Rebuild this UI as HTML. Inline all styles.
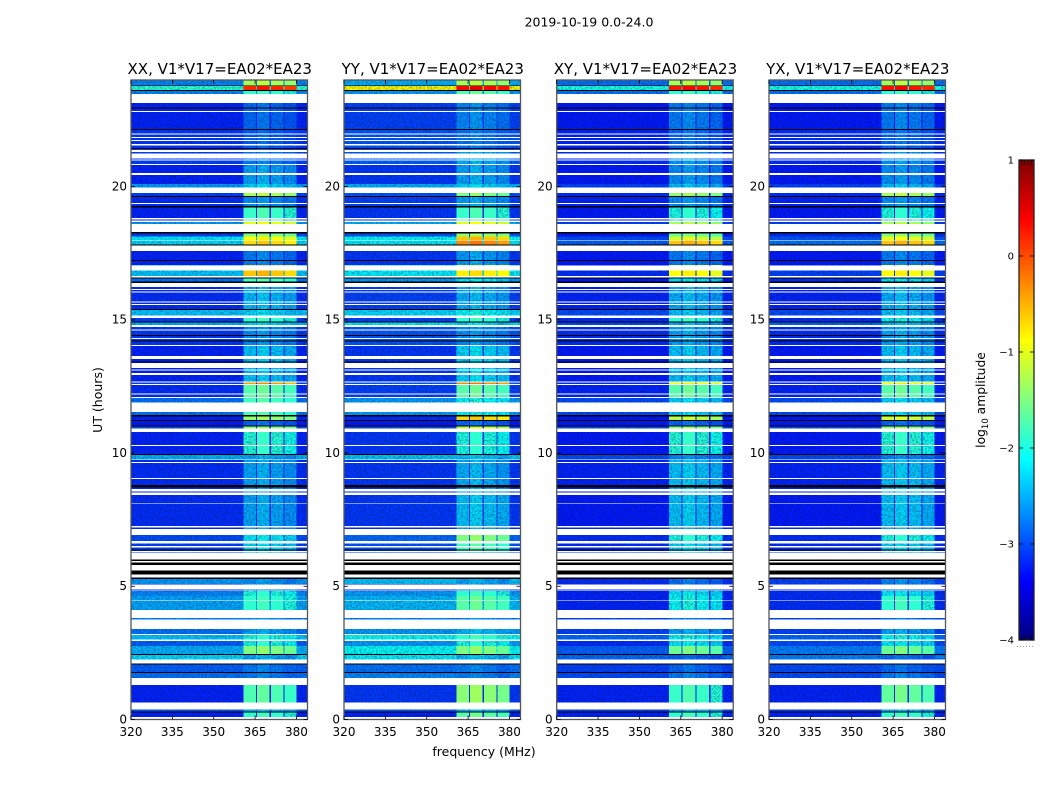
<!DOCTYPE html>
<html>
<head>
<meta charset="utf-8">
<title>2019-10-19 0.0-24.0</title>
<style>
html,body{margin:0;padding:0;background:#fff;}
svg{display:block;font-family:"DejaVu Sans","Liberation Sans",sans-serif;fill:#000;}
</style>
</head>
<body>
<svg id="chart" width="1050" height="800" viewBox="0 0 1050 800" xmlns="http://www.w3.org/2000/svg">
  <defs>
    <linearGradient id="cbar-gradient" x1="0" y1="1" x2="0" y2="0"></linearGradient>
    <!-- Decorative film grain suggesting the noise floor; it is a texture, not data. -->
    <filter id="grain" x="0" y="0" width="100%" height="100%" color-interpolation-filters="sRGB">
      <feTurbulence type="fractalNoise" baseFrequency="0.55" numOctaves="1" seed="4"/>
      <feColorMatrix type="matrix" values="0 0 0 0 0  0 0 0 0 0.05  0 0 0 0 0.2  1.0 0 0 0 -0.38"/>
    </filter>
  </defs>
  <text x="589" y="26.5" font-size="12.5" text-anchor="middle">2019-10-19 0.0-24.0</text>
  <g id="panels"></g>
  <text x="0" y="0" font-size="12.5" text-anchor="middle" transform="translate(102,400) rotate(-90)">UT (hours)</text>
  <text x="484" y="756" font-size="12.5" text-anchor="middle">frequency (MHz)</text>
  <g id="colorbar"></g>
  <text font-size="12.3" text-anchor="middle" transform="translate(985,400) rotate(-90)">log<tspan font-size="8.5" dy="3">10</tspan><tspan dy="-3"> amplitude</tspan></text>
</svg>
<script>
// Panel titles
var panelNames = ["XX", "YY", "XY", "YX"];
var baselineLabel = "V1*V17=EA02*EA23";

// Axis ticks
var freqTicks = [320, 335, 350, 365, 380];
var timeTicks = [0, 5, 10, 15, 20];
var cbarTicks = [1, 0, -1, -2, -3, -4];

// Spectral windows with the strong interference (MHz)
var spwStart = [360.8, 365.6, 370.7, 375.7];
var spwEnd = [365.3, 370.3, 375.3, 380.1];
var spwOffsetXX = [0.0, 0.1, 0.0, -0.1];
var spwOffsetYY = [0.0, 0.1, 0.0, -0.1];
var spwOffsetXY = [0.0, 0.1, 0.0, -0.1];
var spwOffsetYX = [0.0, 0.1, 0.0, -0.1];

// Time segments: top edge of each, in UT hours
var segTop = [24,23.79,23.60,23.13,22.12,21.37,20.81,20.09,19.76,19.62,
  19.23,18.71,18.27,18.12,17.97,17.80,17.05,16.64,16.38,15.40,
  15.14,14.92,14.73,14.05,12.68,12.55,12.06,11.39,11.20,11.01,
  10.79,9.92,9.74,8.42,7.26,6.92,6.70,6.29,5.28,5.08,
  4.82,4.63,4.11,3.40,3.21,2.98,2.76,2.42,2.25,1.78,
  1.29,0.62,0.28];

// Background level in each segment, log10 amplitude
var baseXX = [-2.7,-1.9,-2.7,-3.2,-3.1,-3.05,-3.2,-2.6,-3.05,-3.15,
  -3.2,-2.6,-3.05,-2.2,-2.3,-3.2,-2.4,-2.8,-3.15,-2.4,
  -3.05,-2.5,-3.1,-3.2,-3.05,-3.15,-2.8,-3.2,-3.25,-3.0,
  -3.2,-2.5,-3.15,-3.15,-3.15,-3.0,-3.05,-3.05,-2.6,-3.15,
  -2.7,-2.55,-2.7,-2.8,-2.4,-2.9,-2.5,-2.3,-2.9,-2.8,
  -3.2,-2.95,-3.2];
var baseYY = [-2.5,-0.85,-2.6,-3.05,-2.95,-2.9,-3.1,-2.5,-2.95,-3.05,
  -3.1,-2.5,-2.95,-2.1,-2.2,-3.1,-2.2,-2.6,-3.05,-2.3,
  -3.05,-2.2,-2.95,-3.1,-2.95,-3.05,-2.6,-3.15,-3.25,-3.0,
  -3.1,-2.4,-3.1,-3.1,-3.15,-2.85,-2.95,-3.05,-2.4,-3.15,
  -2.6,-2.45,-2.7,-2.6,-2.1,-2.6,-2.1,-2.2,-2.8,-2.7,
  -3.1,-2.95,-3.2];
var baseXY = [-2.8,-2.0,-2.8,-3.25,-3.2,-3.15,-3.25,-3.05,-3.15,-3.2,
  -3.25,-3.05,-3.25,-3.0,-2.9,-3.25,-3.15,-3.25,-3.2,-3.0,
  -3.15,-3.0,-3.15,-3.25,-3.15,-3.2,-3.0,-3.25,-3.25,-3.0,
  -3.25,-3.0,-3.2,-3.25,-3.15,-3.15,-3.15,-3.05,-3.15,-3.15,
  -3.2,-3.2,-3.0,-3.05,-2.85,-3.15,-2.9,-2.85,-3.05,-3.0,
  -3.2,-3.05,-3.2];
var baseYX = [-2.8,-2.0,-2.8,-3.25,-3.15,-3.15,-3.25,-3.05,-3.15,-3.2,
  -3.25,-3.05,-3.15,-2.95,-2.8,-3.25,-3.05,-3.15,-3.2,-3.0,
  -3.15,-2.85,-3.15,-3.25,-3.15,-3.2,-3.0,-3.25,-3.25,-3.0,
  -3.25,-3.0,-3.2,-3.25,-3.15,-3.15,-3.15,-3.05,-3.05,-3.15,
  -3.15,-3.15,-3.0,-3.05,-2.85,-3.0,-2.75,-2.75,-3.0,-3.0,
  -3.2,-3.05,-3.2];

// Level inside the spectral windows in each segment, log10 amplitude
var rfiXX = [-1.3,0.2,-1.9,-2.85,-2.9,-2.75,-2.55,-2.3,-1.3,-2.65,
  -1.85,-1.0,-1.5,-0.9,-0.7,-2.75,-0.6,-1.8,-2.45,-2.3,
  -1.9,-2.3,-2.65,-2.4,-0.4,-1.7,-1.8,-1.4,-2.85,-1.5,
  -1.95,-2.55,-2.55,-2.55,-2.55,-2.2,-2.3,-2.55,-2.65,-2.75,
  -2.0,-1.9,-2.65,-2.55,-2.0,-2.0,-1.5,-2.55,-2.75,-2.75,
  -1.75,-2.45,-1.9];
var rfiYY = [-1.3,0.4,-1.7,-2.7,-2.8,-2.5,-2.55,-2.3,-1.5,-2.55,
  -1.85,-1.0,-1.4,-0.6,-0.3,-2.6,-0.8,-2.2,-2.5,-2.1,
  -1.9,-2.3,-2.65,-2.3,-0.3,-1.7,-2.1,-0.7,-2.85,-1.2,
  -2.0,-2.45,-2.5,-2.4,-2.5,-1.5,-1.8,-2.55,-2.55,-2.75,
  -1.9,-1.7,-2.65,-2.45,-1.9,-2.0,-1.5,-2.45,-2.75,-2.75,
  -1.45,-2.45,-1.7];
var rfiXY = [-1.3,0.3,-1.9,-2.75,-2.85,-2.6,-2.65,-2.4,-1.4,-2.65,
  -2.0,-1.3,-1.6,-1.1,-0.6,-2.75,-0.9,-2.2,-2.5,-2.4,
  -1.9,-2.5,-2.55,-2.4,-0.9,-1.7,-2.3,-1.2,-2.85,-1.5,
  -1.95,-2.7,-2.4,-2.4,-2.5,-2.0,-2.3,-2.55,-2.8,-2.85,
  -2.2,-2.1,-2.75,-2.55,-2.1,-2.2,-1.6,-2.9,-2.85,-2.75,
  -1.85,-2.45,-1.9];
var rfiYX = [-1.3,0.3,-1.9,-2.75,-2.85,-2.6,-2.65,-2.4,-1.3,-2.65,
  -2.0,-1.3,-1.5,-1.0,-0.6,-2.75,-0.9,-2.2,-2.5,-2.4,
  -2.1,-2.4,-2.55,-2.4,-0.9,-1.7,-2.3,-1.1,-2.85,-1.5,
  -1.95,-2.7,-2.4,-2.4,-2.5,-2.0,-2.3,-2.55,-2.7,-2.85,
  -2.2,-1.9,-2.75,-2.55,-2.1,-2.2,-1.6,-2.85,-2.85,-2.75,
  -1.65,-2.45,-1.9];

// Fully flagged (blank) time ranges, UT hours
var flagTop = [23.48,22.83,22.00,21.87,21.74,21.59,21.38,21.25,21.02,20.84,
  20.51,19.97,19.38,18.82,18.72,18.59,17.99,17.78,17.04,16.64,
  16.39,16.16,16.07,15.69,15.59,15.17,14.80,14.63,14.32,14.05,
  13.65,13.37,13.14,13.00,12.68,12.59,12.24,12.11,11.89,10.93,
  10.31,9.76,9.66,9.06,8.65,8.51,8.11,7.26,7.14,7.07,
  6.69,6.51,6.32,6.26,5.06,4.88,4.48,4.11,3.76,3.20,
  3.01,2.26,1.55,0.63,0.09];
var flagBottom = [23.13,22.80,21.96,21.83,21.71,21.55,21.29,21.06,20.97,20.81,
  20.44,19.76,19.34,18.77,18.68,18.29,17.97,17.59,16.86,16.59,
  16.23,16.12,16.02,15.65,15.55,15.07,14.73,14.59,14.28,14.02,
  13.53,13.19,13.09,12.92,12.65,12.55,12.19,12.06,11.54,10.79,
  10.27,9.73,9.62,9.02,8.56,8.42,8.09,7.21,7.08,6.92,
  6.61,6.46,6.29,5.31,4.90,4.85,4.46,3.80,3.40,3.17,
  2.95,2.11,1.29,0.38,0];

// Dark lines across all frequencies, UT hours
var darkTop = [23.80,23.62,22.97,22.16,21.45,19.64,19.27,18.29,17.82,17.24,
  16.59,16.43,15.40,14.94,14.43,14.23,13.44,11.42,11.24,11.04,
  9.96,8.80,6.38,6.00,5.89,5.60,5.33,2.45,2.10,1.79,0.30];
var darkBottom = [23.78,23.58,22.93,22.12,21.41,19.60,19.21,18.24,17.78,17.20,
  16.55,16.39,15.36,14.90,14.39,14.19,13.40,11.38,11.20,11.00,
  9.92,8.70,6.34,5.94,5.80,5.44,5.27,2.42,2.06,1.75,0.26];

var SVGNS = "http://www.w3.org/2000/svg";
var baseByPanel = [baseXX, baseYY, baseXY, baseYX];
var rfiByPanel = [rfiXX, rfiYY, rfiXY, rfiYX];
var offsetByPanel = [spwOffsetXX, spwOffsetYY, spwOffsetXY, spwOffsetYX];
var panelLeft = [131, 344, 556.7, 769];
var panelWidth = 176.5;
var panelBottom = 719.5;
var panelTopPx = 80;
var strongLevel = -1.95;

function xScale(f, left) { return left + (f - 320) * panelWidth / 64; }
function yScale(h) { return panelBottom - h * (panelBottom - panelTopPx) / 24; }
function channel(x) { return Math.round(255 * Math.max(0, Math.min(1, x))); }
function jet(v) {
  var t = (v + 4) / 5;
  var r = 1.5 - Math.abs(4 * t - 3);
  var g = 1.5 - Math.abs(4 * t - 2);
  var b = 1.5 - Math.abs(4 * t - 1);
  return "rgb(" + channel(r) + "," + channel(g) + "," + channel(b) + ")";
}
function addRect(parent, x, y, w, h, fill) {
  var r = document.createElementNS(SVGNS, "rect");
  r.setAttribute("x", x);
  r.setAttribute("y", y);
  r.setAttribute("width", w);
  r.setAttribute("height", h);
  r.setAttribute("fill", fill);
  r.setAttribute("shape-rendering", "crispEdges");
  parent.appendChild(r);
  return r;
}
function addLine(parent, x1, y1, x2, y2, stroke, sw) {
  var l = document.createElementNS(SVGNS, "line");
  l.setAttribute("x1", x1);
  l.setAttribute("y1", y1);
  l.setAttribute("x2", x2);
  l.setAttribute("y2", y2);
  l.setAttribute("stroke", stroke);
  l.setAttribute("stroke-width", sw);
  parent.appendChild(l);
  return l;
}
function addText(parent, x, y, str, size, anchor) {
  var t = document.createElementNS(SVGNS, "text");
  t.setAttribute("x", x);
  t.setAttribute("y", y);
  t.setAttribute("font-size", size);
  t.setAttribute("text-anchor", anchor);
  t.textContent = str;
  parent.appendChild(t);
  return t;
}

function drawWindowCells(g, p, left, strongOnly) {
  segTop.forEach(function (top, i) {
    var bottom = i + 1 < segTop.length ? segTop[i + 1] : 0;
    var yTop = yScale(top);
    var yBot = yScale(bottom);
    spwStart.forEach(function (s, k) {
      var level = rfiByPanel[p][i] + offsetByPanel[p][k];
      if ((level > strongLevel) !== strongOnly) { return; }
      var x0 = xScale(s, left);
      var x1 = xScale(spwEnd[k], left);
      var cell = addRect(g, x0, yTop, x1 - x0, yBot - yTop, jet(level));
      
      
    });
  });
}

var panelsRoot = document.getElementById("panels");
panelNames.forEach(function (name, p) {
  var left = panelLeft[p];
  var g = document.createElementNS(SVGNS, "g");
  
  
  panelsRoot.appendChild(g);

  segTop.forEach(function (top, i) {
    var bottom = i + 1 < segTop.length ? segTop[i + 1] : 0;
    var yTop = yScale(top);
    var yBot = yScale(bottom);
    var bg = addRect(g, left, yTop, panelWidth, yBot - yTop, jet(baseByPanel[p][i]));
    
    
  });
  drawWindowCells(g, p, left, false);

  var grainRect = addRect(g, left, panelTopPx, panelWidth, panelBottom - panelTopPx, "#000");
  grainRect.setAttribute("filter", "url(#grain)");
  
  

  drawWindowCells(g, p, left, true);

  flagTop.forEach(function (top, i) {
    var yTop = yScale(top);
    var band = addRect(g, left, yTop, panelWidth, yScale(flagBottom[i]) - yTop, "#fff");
    
    
  });
  darkTop.forEach(function (top, i) {
    var yTop = yScale(top);
    var dark = addRect(g, left, yTop, panelWidth, yScale(darkBottom[i]) - yTop, "#000");
    
    
  });

  var frame = document.createElementNS(SVGNS, "rect");
  frame.setAttribute("x", left);
  frame.setAttribute("y", panelTopPx);
  frame.setAttribute("width", panelWidth);
  frame.setAttribute("height", panelBottom - panelTopPx);
  frame.setAttribute("fill", "none");
  frame.setAttribute("stroke", "#555");
  frame.setAttribute("stroke-width", "1.3");
  
  
  g.appendChild(frame);

  var title = addText(g, left + panelWidth / 2 + 0.5, 74, name + ", " + baselineLabel, 15, "middle");
  
  

  freqTicks.forEach(function (f) {
    var x = xScale(f, left);
    var tb = addLine(g, x, panelBottom, x, panelBottom - 4, "#000", 0.8);
    
    
    var tt = addLine(g, x, panelTopPx, x, panelTopPx + 4, "#000", 0.8);
    
    
    var lbl = addText(g, x, 736, String(f), 12, "middle");
    
    
  });
  timeTicks.forEach(function (h) {
    var y = yScale(h);
    var tl = addLine(g, left, y, left + 4, y, "#000", 0.8);
    
    
    var tr = addLine(g, left + panelWidth, y, left + panelWidth - 4, y, "#000", 0.8);
    
    
    var lbl = addText(g, left - 4, y + 3.8, String(h), 12, "end");
    
    
  });
});

// Colorbar
var cbX = 1019, cbW = 15, cbTop = 160, cbBottom = 640;
function cbScale(v) { return cbBottom - (v + 4) * (cbBottom - cbTop) / 5; }
var grad = document.getElementById("cbar-gradient");
for (var s = 0; s <= 40; s++) {
  var stop = document.createElementNS(SVGNS, "stop");
  stop.setAttribute("offset", (s / 40 * 100) + "%");
  stop.setAttribute("stop-color", jet(-4 + s / 8));
  grad.appendChild(stop);
}
var cbRoot = document.getElementById("colorbar");
var cbBody = document.createElementNS(SVGNS, "rect");
cbBody.setAttribute("x", cbX);
cbBody.setAttribute("y", cbTop);
cbBody.setAttribute("width", cbW);
cbBody.setAttribute("height", cbBottom - cbTop);
cbBody.setAttribute("fill", "url(#cbar-gradient)");
cbBody.setAttribute("stroke", "#222");
cbBody.setAttribute("stroke-width", "1.3");


cbRoot.appendChild(cbBody);
cbarTicks.forEach(function (v) {
  var y = cbScale(v);
  var a = addLine(cbRoot, cbX, y, cbX + 4, y, "#000", 0.8);
  
  
  var b = addLine(cbRoot, cbX + cbW, y, cbX + cbW - 4, y, "#000", 0.8);
  
  
  var lbl = addText(cbRoot, cbX - 5, y + 3.5, v < 0 ? "\u2212" + (-v) : String(v), 10, "end");
  
  
});
[3, 6, 9, 12].forEach(function (dx) {
  var up = addLine(cbRoot, cbX + dx, cbTop, cbX + dx, cbTop + 5, "#000", 0.6);
  
  
  var dn = addLine(cbRoot, cbX + dx, cbBottom, cbX + dx, cbBottom - 5, "#000", 0.6);
  
  
});
var dots = addLine(cbRoot, 1017, 646.5, 1035, 646.5, "#999", 1);
dots.setAttribute("stroke-dasharray", "1 2");


</script>
</body>
</html>
